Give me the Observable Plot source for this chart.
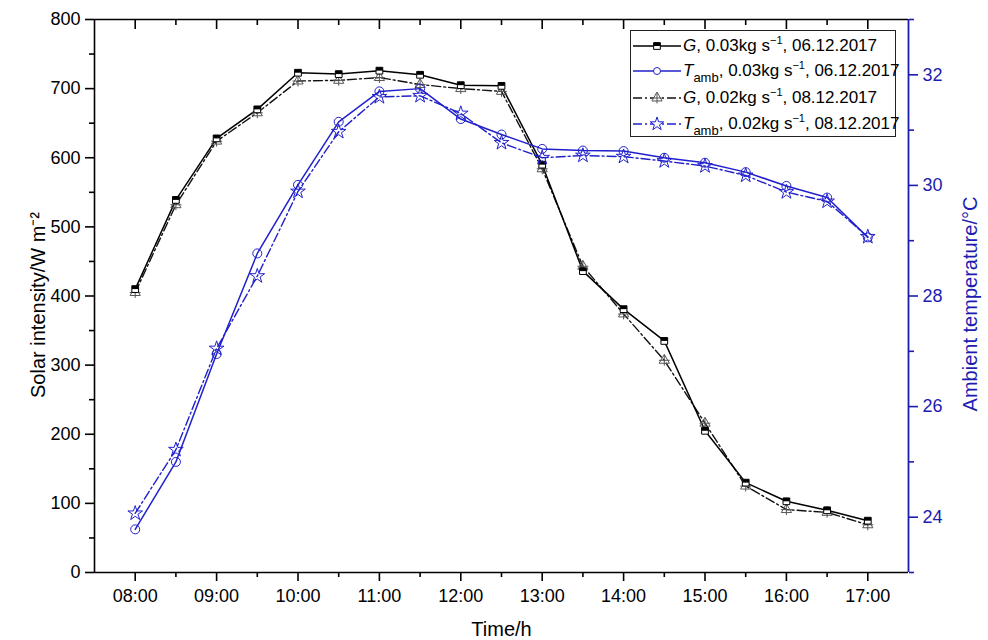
<!DOCTYPE html>
<html>
<head>
<meta charset="utf-8">
<script src="https://cdn.jsdelivr.net/npm/d3@7"></script>
<script src="https://cdn.jsdelivr.net/npm/@observablehq/plot@0.6"></script>
<style>
  body { margin: 0; background: #fff; font-family: "Liberation Sans", Arial, sans-serif; }
  #wrap { position: relative; width: 988px; height: 640px; }
  #legend { position: absolute; left: 630px; top: 30px; width: 266px; height: 107px; border: 1px solid #222; background: #fff; box-sizing: border-box; }
  .row { position: absolute; left: 2px; height: 22px; display: flex; align-items: center; font-size: 17px; white-space: nowrap; color: #000; }
  .row svg { margin-right: 2px; flex: none; }
  .sup { font-size: 11px; position: relative; top: -7px; }
  .sub { font-size: 13px; position: relative; top: 6px; }
</style>
</head>
<body>
<div id="wrap"><div id="legend"></div></div>
<script>
// ---------------- data ----------------
const times = ["08:00","08:30","09:00","09:30","10:00","10:30","11:00","11:30","12:00","12:30",
               "13:00","13:30","14:00","14:30","15:00","15:30","16:00","16:30","17:00"];
// Solar intensity, W m^-2
const gFlow003 = [410, 539, 628, 670, 723, 721, 726, 720, 705, 704, 590, 436, 381, 335, 205, 130, 103, 90, 75];
const gFlow002 = [405, 532, 624, 665, 711, 712, 716, 706, 700, 696, 584, 443, 374, 307, 216, 125, 91, 87, 69];
// Ambient temperature, °C
const tFlow003 = [23.78, 25.0, 26.95, 28.77, 30.01, 31.15, 31.70, 31.75, 31.2, 30.92, 30.66, 30.63, 30.62, 30.5, 30.41, 30.24, 29.99, 29.78, 29.06];
const tFlow002 = [24.07, 25.22, 27.05, 28.36, 29.89, 30.97, 31.6, 31.62, 31.3, 30.77, 30.5, 30.54, 30.52, 30.44, 30.35, 30.18, 29.88, 29.71, 29.07];

const xTickLabels = ["08:00","09:00","10:00","11:00","12:00","13:00","14:00","15:00","16:00","17:00"];
const xMinorLabels = ["08:30","09:30","10:30","11:30","12:30","13:30","14:30","15:30","16:30"];
const solarTicks = [0, 100, 200, 300, 400, 500, 600, 700, 800];
const solarMinorTicks = [50, 150, 250, 350, 450, 550, 650, 750];
const tempTicks = [24, 26, 28, 30, 32];
const tempMinorTicks = [23, 25, 27, 29, 31, 33];
const xDomain = [7.5, 17.5];
const solarDomain = [0, 800];
const tempDomain = [23, 33];

const legendEntries = [
  {key: "g003", html: '<i>G</i>, 0.03kg s<span class="sup">−1</span>, 06.12.2017'},
  {key: "t003", html: '<i>T</i><span class="sub">amb</span>, 0.03kg s<span class="sup">−1</span>, 06.12.2017'},
  {key: "g002", html: '<i>G</i>, 0.02kg s<span class="sup">−1</span>, 08.12.2017'},
  {key: "t002", html: '<i>T</i><span class="sub">amb</span>, 0.02kg s<span class="sup">−1</span>, 08.12.2017'}
];

// ---------------- helpers ----------------
const BLUE = "#2020cc";
const AXIS_BLUE = "#1c1cb0";
const FONT = "Liberation Sans, Arial, sans-serif";
const hour = t => +t.slice(0, 2) + +t.slice(3) / 60;
const k = (solarDomain[1] - solarDomain[0]) / (tempDomain[1] - tempDomain[0]);
const toLeft = T => (T - tempDomain[0]) * k + solarDomain[0];
const fromLeft = v => (v - solarDomain[0]) / k + tempDomain[0];

const halfSquare = {
  draw(ctx, size) {
    const w = Math.sqrt(size) / 2;
    ctx.moveTo(-w, -w); ctx.lineTo(w, -w); ctx.lineTo(w, 0); ctx.lineTo(-w, 0); ctx.closePath();
  }
};

const rows = times.map((t, i) => ({
  x: hour(t),
  g003: gFlow003[i], g002: gFlow002[i],
  t003: toLeft(tFlow003[i]), t002: toLeft(tFlow002[i])
}));

const DASHDOT = "9,3,2,3";

const chart = Plot.plot({
  width: 988, height: 640,
  marginLeft: 94, marginRight: 80, marginTop: 19, marginBottom: 68,
  style: {fontFamily: FONT, fontSize: "18px", background: "transparent", color: "#000"},
  x: {domain: xDomain},
  y: {domain: solarDomain},
  marks: [
    // frame lines
    Plot.ruleY([solarDomain[1]], {stroke: "#000", strokeWidth: 1.6}),
    Plot.ruleY([solarDomain[0]], {stroke: "#000", strokeWidth: 1.6}),
    Plot.ruleX([xDomain[0]], {stroke: "#000", strokeWidth: 1.6}),
    Plot.ruleX([xDomain[1]], {stroke: AXIS_BLUE, strokeWidth: 1.8}),
    // bottom axis
    Plot.axisX(xTickLabels.map(hour), {anchor: "bottom", tickSize: 9, tickPadding: 8, strokeWidth: 1.6, fontSize: 18,
      tickFormat: v => xTickLabels[Math.round(v - 8)], label: null}),
    Plot.axisX(xMinorLabels.map(hour), {anchor: "bottom", tickSize: 5, strokeWidth: 1.6, tickFormat: () => "", label: null}),
    // top frame ticks (inward)
    Plot.axisX(xTickLabels.map(hour), {anchor: "top", tickSize: 9, dy: 9, strokeWidth: 1.6, tickFormat: () => "", label: null}),
    Plot.axisX(xMinorLabels.map(hour), {anchor: "top", tickSize: 5, dy: 5, strokeWidth: 1.6, tickFormat: () => "", label: null}),
    // left axis
    Plot.axisY(solarTicks, {anchor: "left", tickSize: 9, tickPadding: 5, strokeWidth: 1.6, fontSize: 18, label: null}),
    Plot.axisY(solarMinorTicks, {anchor: "left", tickSize: 5, strokeWidth: 1.6, tickFormat: () => "", label: null}),
    // right axis (temperature)
    Plot.axisY(tempTicks.map(toLeft), {anchor: "right", tickSize: 9, tickPadding: 5, strokeWidth: 1.6, fontSize: 18,
      color: AXIS_BLUE, tickFormat: v => String(Math.round(fromLeft(v))), label: null}),
    Plot.axisY(tempMinorTicks.map(toLeft), {anchor: "right", tickSize: 5, strokeWidth: 1.6, color: AXIS_BLUE,
      tickFormat: () => "", label: null}),
    // axis titles
    Plot.text(["Time/h"], {frameAnchor: "bottom", textAnchor: "middle", lineAnchor: "middle", dy: 57, fontSize: 20, fill: "#000"}),
    Plot.text(["Solar intensity/W m⁻²"], {frameAnchor: "left", textAnchor: "middle", lineAnchor: "middle", rotate: -90, dx: -56, dy: 9, fontSize: 20, fill: "#000"}),
    Plot.text(["Ambient temperature/°C"], {frameAnchor: "right", textAnchor: "middle", lineAnchor: "middle", rotate: -90, dx: 62, dy: 8, fontSize: 20, fill: AXIS_BLUE}),
    // series lines
    Plot.line(rows, {x: "x", y: "g002", stroke: "#111", strokeWidth: 1.4, strokeDasharray: DASHDOT}),
    Plot.line(rows, {x: "x", y: "g003", stroke: "#000", strokeWidth: 1.5}),
    Plot.line(rows, {x: "x", y: "t002", stroke: BLUE, strokeWidth: 1.4, strokeDasharray: DASHDOT}),
    Plot.line(rows, {x: "x", y: "t003", stroke: BLUE, strokeWidth: 1.5}),
    // markers
    Plot.dot(rows, {x: "x", y: "g002", symbol: "triangle", r: 3.8, fill: "none", stroke: "#555", strokeWidth: 1}),
    Plot.dot(rows, {x: "x", y: "g002", symbol: "plus", r: 3.6, fill: "none", stroke: "#555", strokeWidth: 1}),
    Plot.dot(rows, {x: "x", y: "g003", symbol: "square", r: 3.8, fill: "#fff", stroke: "#000", strokeWidth: 1}),
    Plot.dot(rows, {x: "x", y: "g003", symbol: halfSquare, r: 3.8, fill: "#000", stroke: "none"}),
    Plot.dot(rows, {x: "x", y: "t002", symbol: "star", r: 4.6, fill: "none", stroke: BLUE, strokeWidth: 1}),
    Plot.dot(rows, {x: "x", y: "t003", symbol: "circle", r: 4.5, fill: "none", stroke: BLUE, strokeWidth: 1})
  ]
});
document.getElementById("wrap").insertBefore(chart, document.getElementById("legend"));

// ---------------- legend ----------------
const legendStyles = {
  g003: {stroke: "#000", dash: null, markers: [{sym: d3.symbolSquare, r: 3.8, fill: "#fff", stroke: "#000"}, {sym: halfSquare, r: 3.8, fill: "#000", stroke: "none"}]},
  t003: {stroke: BLUE, dash: null, markers: [{sym: d3.symbolCircle, r: 3.5, fill: "#fff", stroke: BLUE}]},
  g002: {stroke: "#111", dash: DASHDOT, markers: [{sym: d3.symbolTriangle, r: 3.8, fill: "#fff", stroke: "#555"}, {sym: d3.symbolPlus, r: 3.6, fill: "none", stroke: "#555"}]},
  t002: {stroke: BLUE, dash: DASHDOT, markers: [{sym: d3.symbolStar, r: 4.2, fill: "#fff", stroke: BLUE}]}
};
const rowTops = [4, 29, 56, 82];
const legend = d3.select("#legend");
legendEntries.forEach((e, i) => {
  const st = legendStyles[e.key];
  const row = legend.append("div").attr("class", "row").style("top", rowTops[i] + "px");
  const svg = row.append("svg").attr("width", 48).attr("height", 22);
  svg.append("line").attr("x1", 0).attr("x2", 48).attr("y1", 11).attr("y2", 11)
    .attr("stroke", st.stroke).attr("stroke-width", 1.4).attr("stroke-dasharray", st.dash);
  st.markers.forEach(m => {
    svg.append("path").attr("transform", "translate(24,11)")
      .attr("d", d3.symbol(m.sym, Math.PI * m.r * m.r)())
      .attr("fill", m.fill).attr("stroke", m.stroke).attr("stroke-width", 1);
  });
  row.append("span").html(e.html);
});
</script>
</body>
</html>
